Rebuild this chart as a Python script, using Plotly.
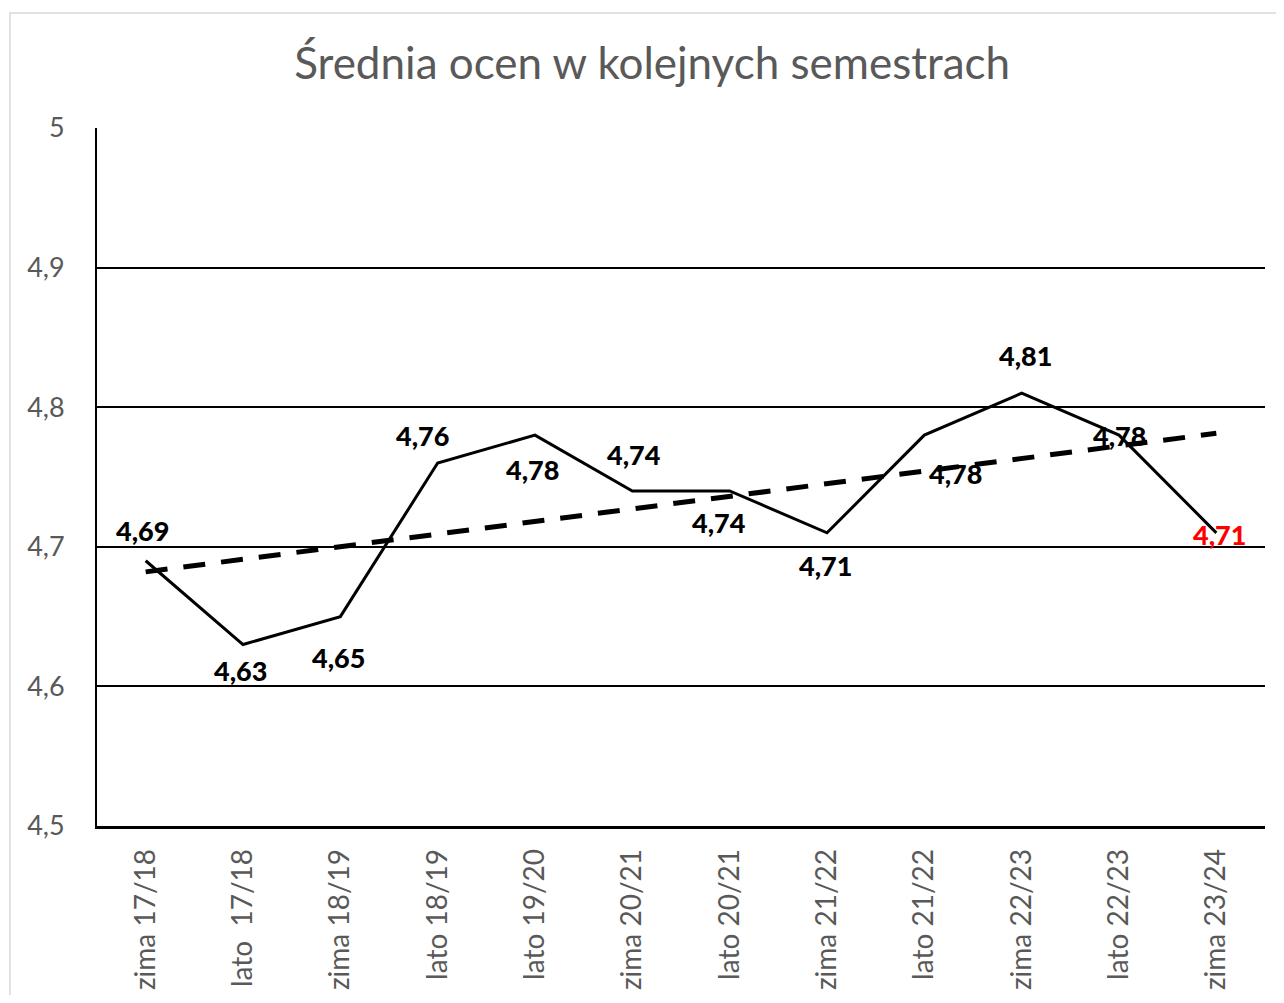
import numpy as np
import plotly.graph_objects as go

categories = ["zima 17/18", "lato  17/18", "zima 18/19", "lato 18/19", "lato 19/20",
              "zima 20/21", "lato 20/21", "zima 21/22", "lato 21/22", "zima 22/23",
              "lato 22/23", "zima 23/24"]
values = [4.69, 4.63, 4.65, 4.76, 4.78, 4.74, 4.74, 4.71, 4.78, 4.81, 4.78, 4.71]
y_ticks = [4.5, 4.6, 4.7, 4.8, 4.9, 5.0]
y_tick_labels = ["4,5", "4,6", "4,7", "4,8", "4,9", "5"]
title_text = "Średnia ocen w kolejnych semestrach"

# label offsets in pixels (style)
label_shift = [(-3, 30), (-3, -26), (-2, -41), (-15, 28), (-3, -34), (2, 36),
               (-11, -32), (-2, -33), (31, -38), (4, 38), (0, 0), (3, -2)]
label_colors = ["black"] * 11 + ["#ff0000"]

FONT = "Lato, Open Sans, sans-serif"

idx = np.arange(1, len(values) + 1)
slope, intercept = np.polyfit(idx, values, 1)
trend = slope * idx + intercept

fig = go.Figure()
fig.add_trace(go.Scatter(x=categories, y=trend, mode="lines",
                         line=dict(color="black", width=5, dash="22px,16px"),
                         hoverinfo="skip", showlegend=False))
fig.add_trace(go.Scatter(x=categories, y=values, mode="lines",
                         line=dict(color="black", width=3), showlegend=False))

for c, v, (dx, dy), col in zip(categories, values, label_shift, label_colors):
    fig.add_annotation(x=c, y=v, xref="x", yref="y", text=f"{v:.2f}".replace(".", ","),
                       showarrow=False, xshift=dx, yshift=dy,
                       font=dict(family=FONT, size=27, color=col, weight=900))

# outer chart border
fig.add_shape(type="rect", xref="paper", yref="paper",
              x0=-0.0745, x1=1.03, y0=-0.27, y1=1.1648,
              line=dict(color="#d9d9d9", width=1.5), layer="below")

fig.update_layout(
    width=1268, height=987,
    margin=dict(l=89, r=11, t=120, b=169, autoexpand=False),
    paper_bgcolor="white", plot_bgcolor="white",
    separators=", ",
    title=dict(text=title_text, x=0.508, xanchor="center", y=0.944, yanchor="middle",
               font=dict(family=FONT, size=44, color="#595959")),
    font=dict(family=FONT, color="#595959"),
)
fig.update_xaxes(type="category", tickangle=-90, showgrid=False, automargin=False,
                 tickfont=dict(size=28, color="#595959"),
                 showline=True, linecolor="black", linewidth=2.5,
                 ticks="", ticklabelstandoff=9, range=[-0.5, len(categories) - 0.5])
fig.update_yaxes(range=[4.5, 5.0], tickvals=y_ticks, ticktext=y_tick_labels,
                 showgrid=True, gridcolor="black", gridwidth=1.5, automargin=False,
                 showline=True, linecolor="black", linewidth=2,
                 zeroline=False, ticks="", ticklabelstandoff=25,
                 tickfont=dict(size=27, color="#595959"))

fig.write_html("out.html")
